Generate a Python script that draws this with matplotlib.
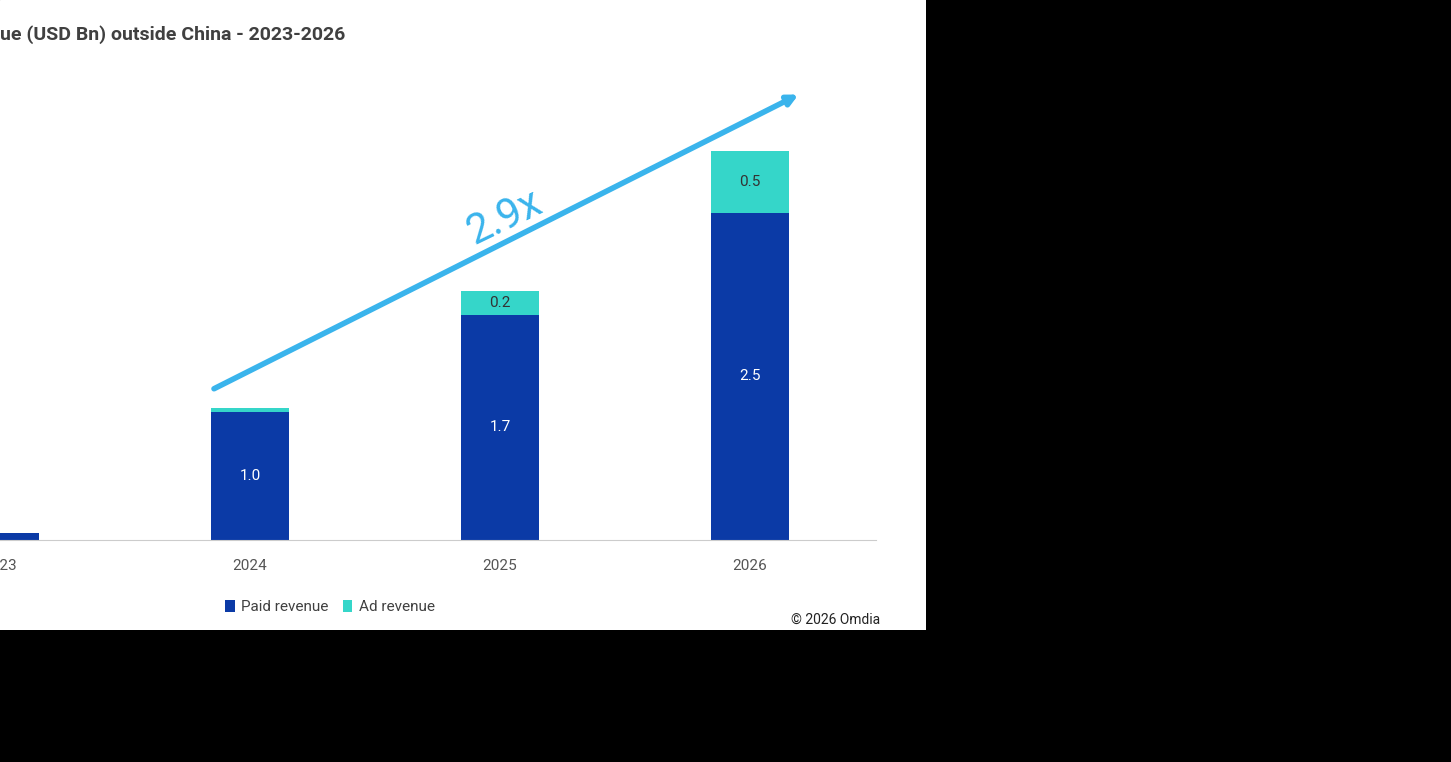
import matplotlib.pyplot as plt

years = ['2023', '2024', '2025', '2026']
paid = [0.05, 0.98, 1.72, 2.50]
ad = [0.0, 0.03, 0.18, 0.47]
paid_labels = ['', '1.0', '1.7', '2.5']
ad_labels = ['', '', '0.2', '0.5']

W, H = 1451, 762
plt.rcParams['font.family'] = ['Roboto', 'DejaVu Sans']
fig = plt.figure(figsize=(W / 100, H / 100), dpi=100, facecolor='black')

# white panel behind the chart
bg = fig.add_axes([0, 1 - 630 / H, 926 / W, 630 / H], zorder=0)
bg.set_facecolor('white')
bg.set_axis_off()
bg.patch.set_visible(True)
bg.add_patch(plt.Rectangle((0, 0), 1, 1, transform=bg.transAxes, color='white'))

# axes in pixel coords: x 0..876, y 60..540 from top
ax = fig.add_axes([0, 1 - 540 / H, 876 / W, 480 / H], zorder=1)
ax.set_facecolor('none')
xs = list(range(len(years)))
ax.set_xlim(35 / 260, 911 / 260)
ax.set_ylim(0, 480 / 131)
ax.bar(xs, paid, 0.315, color='#0b3aa6', label='Paid revenue')
ax.bar(xs, ad, 0.315, bottom=paid, color='#35d6c9', label='Ad revenue')
for x, p, a, pl, al in zip(xs, paid, ad, paid_labels, ad_labels):
    if pl:
        ax.text(x, p * 0.5, pl, ha='center', va='center', color='white', fontsize=11)
    if al:
        ax.text(x, p + a / 2, al, ha='center', va='center', color='#333333', fontsize=11)

for s in ['top', 'right', 'left']:
    ax.spines[s].set_visible(False)
ax.spines['bottom'].set_color('#cccccc')
ax.set_yticks([])
ax.set_xticks(xs, years)
ax.tick_params(axis='x', length=0, pad=14, labelsize=11, labelcolor='#555555')

ax.annotate('', xy=(3.204, 3.41), xytext=(0.846, 1.145),
            arrowprops=dict(arrowstyle='-|>,head_length=0.6,head_width=0.3',
                            color='#3ab4ec', lw=4))
ax.text((490 + 35) / 260, (540 - 218) / 131, '2.9x', rotation=25.8, color='#3ab4ec',
        fontsize=30, ha='center', va='center')

fig.text(0, 1 - 35 / H, 'ue (USD Bn) outside China - 2023-2026', fontsize=14,
         fontweight='bold', color='#404040', va='center', ha='left')
leg = fig.legend(loc='center', bbox_to_anchor=(330 / W, 1 - 607 / H), ncol=2, frameon=False,
                 fontsize=11, handlelength=0.6, handleheight=0.8, columnspacing=1.0,
                 handletextpad=0.4)
for t in leg.get_texts():
    t.set_color('#404040')
fig.text(880 / W, 1 - 620 / H, '© 2026 Omdia', fontsize=10, ha='right', va='center',
         color='#222222')
fig.savefig('out.png', dpi=100, facecolor='black')
